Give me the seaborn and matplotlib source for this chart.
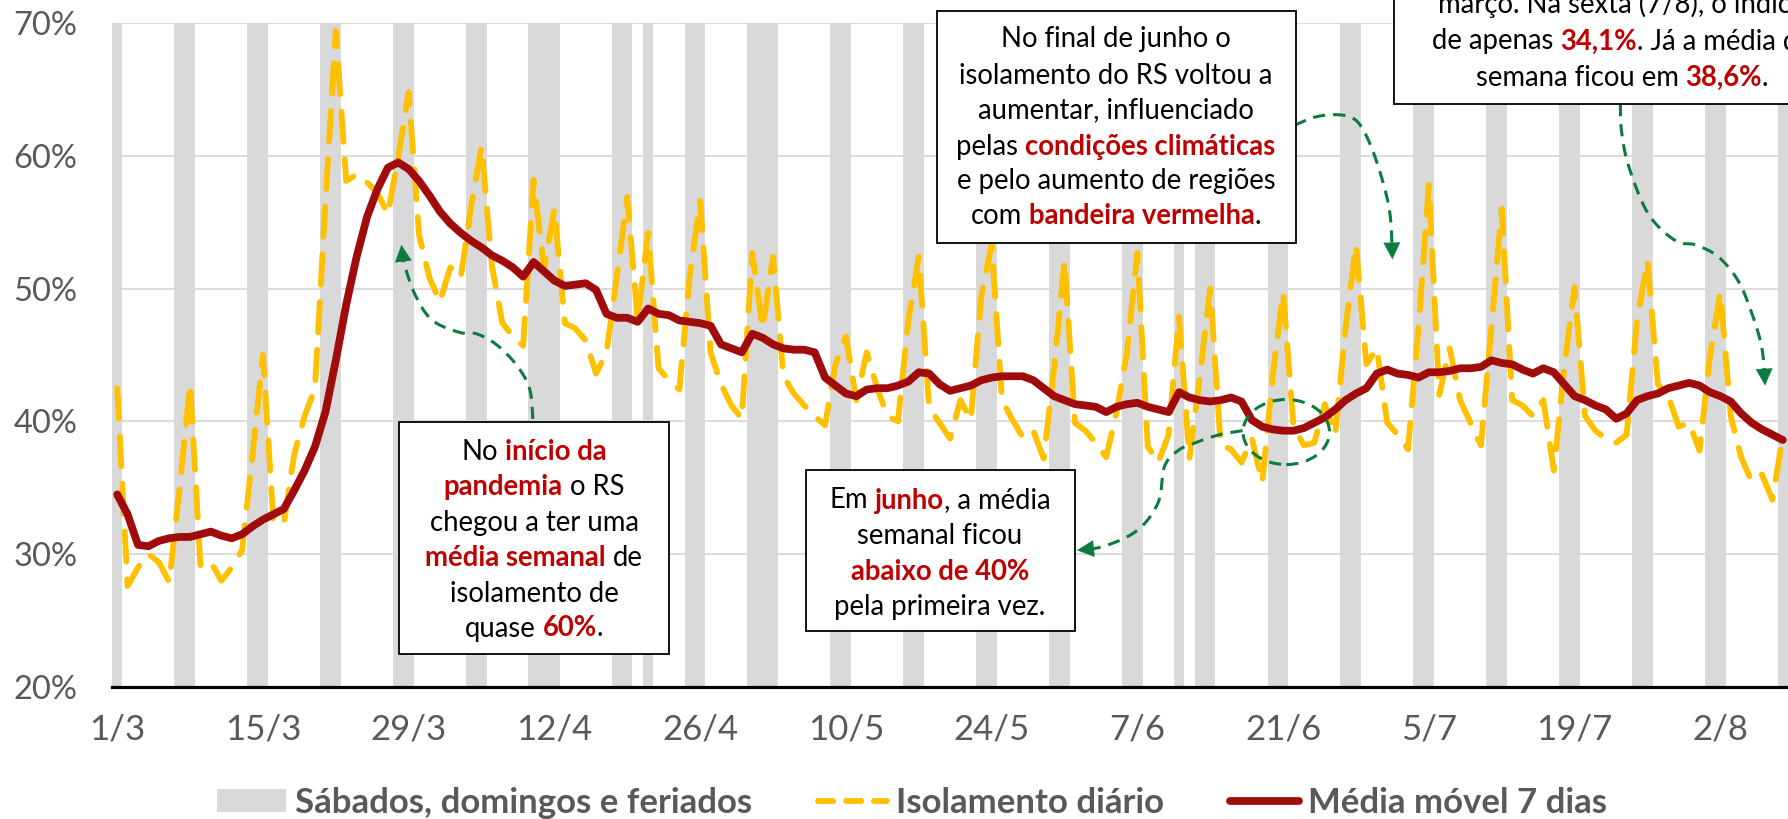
import numpy as np
import pandas as pd
import matplotlib
matplotlib.use("Agg")
import matplotlib.pyplot as plt
import seaborn as sns
from matplotlib.patches import Rectangle, Ellipse, Patch
from matplotlib.lines import Line2D
from matplotlib.font_manager import FontProperties

# ---------------- data ----------------
start_date = "2020-03-01"
daily = [
    42.5, 27.6, 29.0, 30.0, 29.4, 27.9, 35.0,
    42.8, 29.1, 29.4, 28.0, 29.0, 30.3, 37.5,
    45.0, 32.5, 32.3, 37.5, 40.4, 42.5, 56.5,
    69.4, 58.1, 58.6, 58.0, 57.2, 55.6, 59.9,
    64.8, 54.0, 50.8, 49.0, 51.6, 50.8, 56.2,
    60.7, 51.7, 47.4, 46.4, 45.7, 58.2, 51.5,
    56.0, 47.4, 47.0, 46.1, 43.6, 45.2, 50.9,
    56.9, 47.6, 54.2, 44.0, 43.1, 42.4, 51.0,
    56.6, 45.2, 42.8, 41.2, 40.2, 52.7, 47.0,
    52.4, 43.4, 42.1, 41.2, 40.4, 39.7, 44.3,
    46.4, 41.6, 45.2, 42.5, 40.4, 40.0, 47.6,
    52.4, 41.0, 39.9, 38.7, 41.6, 40.1, 49.4,
    53.3, 41.6, 40.1, 38.8, 39.3, 37.2, 44.0,
    52.1, 39.9, 39.3, 38.4, 37.3, 40.7, 45.2,
    52.7, 38.1, 36.9, 39.0, 47.9, 37.2, 43.4,
    50.0, 38.2, 37.9, 36.9, 38.7, 35.4, 43.4,
    49.7, 39.6, 38.2, 38.4, 41.3, 39.0, 47.0,
    53.3, 44.3, 45.5, 39.9, 39.0, 37.9, 47.0,
    57.8, 42.0, 45.5, 41.6, 39.9, 38.2, 47.0,
    56.0, 41.6, 41.2, 40.4, 41.6, 36.3, 44.0,
    50.1, 40.4, 39.3, 38.7, 38.4, 39.0, 47.6,
    52.1, 42.8, 41.9, 39.6, 39.9, 37.8, 44.9,
    49.7, 40.4, 37.3, 35.5, 36.0, 34.1, 38.9,
]
media7 = [
    34.5, 33.0, 30.7, 30.6, 31.0, 31.2, 31.3,
    31.3, 31.5, 31.7, 31.4, 31.2, 31.5, 32.1,
    32.6, 33.0, 33.4, 34.8, 36.3, 38.1, 40.7,
    44.6, 48.8, 52.4, 55.4, 57.5, 59.1, 59.5,
    59.0, 58.1, 57.0, 55.8, 54.9, 54.2, 53.6,
    53.1, 52.5, 52.1, 51.6, 50.9, 52.0, 51.3,
    50.6, 50.2, 50.3, 50.4, 49.9, 48.1, 47.8,
    47.8, 47.5, 48.5, 48.1, 48.0, 47.6, 47.5,
    47.4, 47.2, 45.8, 45.5, 45.2, 46.6, 46.3,
    45.8, 45.5, 45.4, 45.4, 45.2, 43.3, 42.7,
    42.1, 41.9, 42.4, 42.5, 42.5, 42.7, 43.0,
    43.7, 43.6, 42.8, 42.3, 42.5, 42.7, 43.1,
    43.3, 43.4, 43.4, 43.4, 43.1, 42.5, 41.9,
    41.6, 41.3, 41.2, 41.1, 40.7, 41.1, 41.3,
    41.4, 41.1, 40.9, 40.7, 42.2, 41.8, 41.6,
    41.5, 41.6, 41.8, 41.5, 40.1, 39.6, 39.4,
    39.3, 39.3, 39.5, 39.9, 40.3, 40.9, 41.6,
    42.1, 42.5, 43.6, 43.9, 43.6, 43.5, 43.3,
    43.7, 43.7, 43.8, 44.0, 44.0, 44.1, 44.6,
    44.4, 44.3, 43.9, 43.6, 44.0, 43.7, 42.8,
    41.9, 41.6, 41.2, 40.9, 40.2, 40.6, 41.6,
    41.9, 42.1, 42.5, 42.7, 42.9, 42.7, 42.2,
    41.9, 41.5, 40.6, 39.9, 39.4, 39.0, 38.6,
]
holidays = ["2020-04-10", "2020-04-21", "2020-05-01", "2020-06-11"]
tick_labels = ["1/3", "15/3", "29/3", "12/4", "26/4", "10/5", "24/5",
               "7/6", "21/6", "5/7", "19/7", "2/8"]
y_ticks = [20, 30, 40, 50, 60, 70]
legend_labels = ["Sábados, domingos e feriados", "Isolamento diário", "Média móvel 7 dias"]

# ---------------- style ----------------
YELLOW = "#FFC000"
DARKRED = "#A00B0B"
GRAY = "#D9D9D9"
TXTGRAY = "#595959"
RED = "#C00000"
GREEN = "#0B7B3E"
FONT = "Lato"

sns.set_style("white")
plt.rcParams["font.family"] = [FONT, "DejaVu Sans"]

W, H = 1788, 819
fig = plt.figure(figsize=(W / 100, H / 100), dpi=100)
ax = fig.add_axes([112 / W, 1 - 687 / H, 1 - 112 / W, (687 - 23) / H])

dates = pd.date_range(start_date, periods=len(daily))
xpos = np.arange(len(daily)) + 0.5
is_off = np.asarray((dates.dayofweek >= 5) | pd.Index(dates.strftime("%Y-%m-%d")).isin(holidays))
top = y_ticks[-1]

sns.barplot(x=xpos[is_off], y=np.full(is_off.sum(), float(top)), native_scale=True,
            width=1.0, color=GRAY, saturation=1, linewidth=0, errorbar=None,
            ax=ax, orient="x", zorder=1)
sns.lineplot(x=xpos, y=daily, ax=ax, color=YELLOW, linewidth=4.2,
             linestyle=(0, (5.2, 3.0)), dash_capstyle="round",
             errorbar=None, sort=False, zorder=3)
sns.lineplot(x=xpos, y=media7, ax=ax, color=DARKRED, linewidth=5.6,
             solid_joinstyle="round", solid_capstyle="round",
             errorbar=None, sort=False, zorder=4)

ax.set_xlim(0, 161)
ax.set_ylim(y_ticks[0], y_ticks[-1])
ax.set_xlabel("")
ax.set_ylabel("")
lbl = [f"{d.day}/{d.month}" for d in dates]
tick_idx = np.array([lbl.index(t) for t in tick_labels], dtype=float)
ax.set_xticks(tick_idx)
ax.set_xticklabels([""] * len(tick_idx))
ax.set_xticks(tick_idx + 0.5, minor=True)
ax.set_xticklabels(tick_labels, minor=True)
ax.set_yticks(y_ticks)
ax.set_yticklabels([f"{v}%" for v in y_ticks])
ax.grid(axis="y", color=GRAY, linewidth=1.3)
ax.grid(axis="x", visible=False)
ax.set_axisbelow(True)
for s in ["top", "right", "left"]:
    ax.spines[s].set_visible(False)
ax.spines["bottom"].set_linewidth(2.3)
ax.spines["bottom"].set_color("black")
ax.spines["bottom"].set_zorder(5)
ax.tick_params(axis="x", which="major", length=7.5, width=2.3, color="black", direction="out")
ax.tick_params(axis="x", which="minor", length=0, pad=19, labelsize=25, labelcolor=TXTGRAY)
ax.tick_params(axis="y", length=0, pad=25, labelsize=23.5, labelcolor=TXTGRAY)

# ---------------- legend ----------------
handles = [Patch(facecolor=GRAY, edgecolor="none"),
           Line2D([], [], color=YELLOW, lw=4.2, linestyle=(0, (2.6, 2.2)), dash_capstyle="round"),
           Line2D([], [], color=DARKRED, lw=5.6, solid_capstyle="round")]
leg = fig.legend(handles, legend_labels, loc="center", bbox_to_anchor=(0.51, 1 - 803 / H),
                 ncol=3, frameon=False,
                 prop=FontProperties(family=FONT, weight="bold", size=25),
                 labelcolor=TXTGRAY, handlelength=2.0, handletextpad=0.25,
                 columnspacing=1.9, handleheight=0.65)

# ---------------- annotation arrows ----------------
def smooth(pts, n=14):
    P = np.array(pts, float)
    P = np.vstack([P[0], P, P[-1]])
    out = []
    for i in range(1, len(P) - 2):
        p0, p1, p2, p3 = P[i - 1], P[i], P[i + 1], P[i + 2]
        t = np.linspace(0, 1, n, endpoint=False)[:, None]
        out.append(0.5 * ((2 * p1) + (-p0 + p2) * t + (2 * p0 - 5 * p1 + 4 * p2 - p3) * t ** 2
                          + (-p0 + 3 * p1 - 3 * p2 + p3) * t ** 3))
    out.append(P[-2][None, :])
    return np.vstack(out)


def green_arrow(pts):
    c = smooth(pts)
    k = len(c) - 5
    ax.plot(c[:k, 0], c[:k, 1], color=GREEN, lw=2.2, linestyle=(0, (4, 2.6)),
            clip_on=False, zorder=12)
    ax.annotate("", xy=tuple(c[-1]), xytext=tuple(c[-4]),
                arrowprops=dict(arrowstyle="-|>,head_length=0.6,head_width=0.3",
                                color=GREEN, lw=0.1, shrinkA=0, shrinkB=0,
                                mutation_scale=20),
                annotation_clip=False, zorder=13)


green_arrow([(40.43, 40.18), (40.1, 42.5), (38.8, 44.3), (36.9, 45.8), (35.0, 46.6),
             (33.4, 46.7), (30.8, 47.6), (29.2, 49.4), (28.1, 51.8), (27.8, 53.3)])
green_arrow([(108.6, 39.3), (106.4, 39.0), (104.1, 38.4), (102.4, 37.8), (101.1, 36.6),
             (100.5, 33.9), (98.5, 31.8), (95.3, 30.6), (92.7, 30.3)])
green_arrow([(113.6, 62.3), (115.5, 62.9), (117.4, 63.1), (119.0, 62.9), (120.0, 62.2),
             (121.1, 60.4), (122.2, 57.7), (122.8, 55.4), (123.0, 52.2)])
green_arrow([(144.9, 63.9), (145.0, 61.9), (145.7, 59.2), (147.6, 55.6), (150.2, 53.6),
             (152.1, 53.3), (154.3, 52.4), (156.2, 50.6), (157.5, 48.2), (158.5, 45.5),
             (158.8, 42.7)])
ax.add_patch(Ellipse((112.8, 39.2), width=8.3, height=4.9, fill=False, edgecolor=GREEN,
                     lw=2.2, linestyle=(0, (4, 2.6)), zorder=12))

# ---------------- text boxes ----------------
renderer = fig.canvas.get_renderer()
ANN = 19.8


def fx(px):
    return px / W


def fy(py):
    return 1 - py / H


def text_w(s, bold):
    t = fig.text(0, 0, s, fontsize=ANN, fontweight="bold" if bold else "normal", family=FONT)
    w = t.get_window_extent(renderer).width
    t.remove()
    return w


SPACE = {b: text_w("a a", b) - text_w("aa", b) for b in (False, True)}


def rich_line(segs, xc, yc):
    parts, total = [], 0.0
    for s, red in segs:
        lead = len(s) - len(s.lstrip(" "))
        trail = len(s) - len(s.rstrip(" "))
        core = s.strip(" ")
        w = text_w(core, red) if core else 0.0
        parts.append((core, red, total + lead * SPACE[red]))
        total += lead * SPACE[red] + w + trail * SPACE[red]
    x0 = xc - total / 2
    for core, red, off in parts:
        fig.text(fx(x0 + off), fy(yc + 9.5), core, ha="left", va="baseline",
                 fontsize=ANN, family=FONT, fontweight="bold" if red else "normal",
                 color=RED if red else "black", zorder=21)


def box(x0, y0, x1, y1):
    fig.patches.append(Rectangle((fx(x0), fy(y1)), fx(x1) - fx(x0), (y1 - y0) / H,
                                 transform=fig.transFigure, facecolor="white",
                                 edgecolor="black", lw=1.3, zorder=20))


box(399, 422, 669, 654)
for segs, yc in zip([[("No ", 0), ("início da", 1)],
                     [("pandemia", 1), (" o RS", 0)],
                     [("chegou a ter uma", 0)],
                     [("média semanal", 1), (" de", 0)],
                     [("isolamento de", 0)],
                     [("quase ", 0), ("60%", 1), (".", 0)]],
                    [450, 486, 522, 557, 592, 627]):
    rich_line(segs, 534, yc)

box(806, 470, 1075, 631)
for segs, yc in zip([[("Em ", 0), ("junho", 1), (", a média", 0)],
                     [("semanal ficou", 0)],
                     [("abaixo de 40%", 1)],
                     [("pela primeira vez.", 0)]],
                    [499, 535, 570, 605]):
    rich_line(segs, 940, yc)

box(937, 11, 1296, 243)
for segs, yc in zip([[("No final de junho o", 0)],
                     [("isolamento do RS voltou a", 0)],
                     [("aumentar, influenciado", 0)],
                     [("pelas ", 0), ("condições climáticas", 1)],
                     [("e pelo aumento de regiões", 0)],
                     [("com ", 0), ("bandeira vermelha", 1), (".", 0)]],
                    [38, 74, 109, 145, 180, 215]):
    rich_line(segs, 1116, yc)

box(1394, -200, 1900, 104)
for segs, yc in zip([[("março. Na sexta (7/8), o índice", 0)],
                     [("de apenas ", 0), ("34,1%", 1), (". Já a média da", 0)],
                     [("semana ficou em ", 0), ("38,6%", 1), (".", 0)]],
                    [4, 40, 76]):
    rich_line(segs, 1622, yc)

fig.savefig("out.png", dpi=100)
